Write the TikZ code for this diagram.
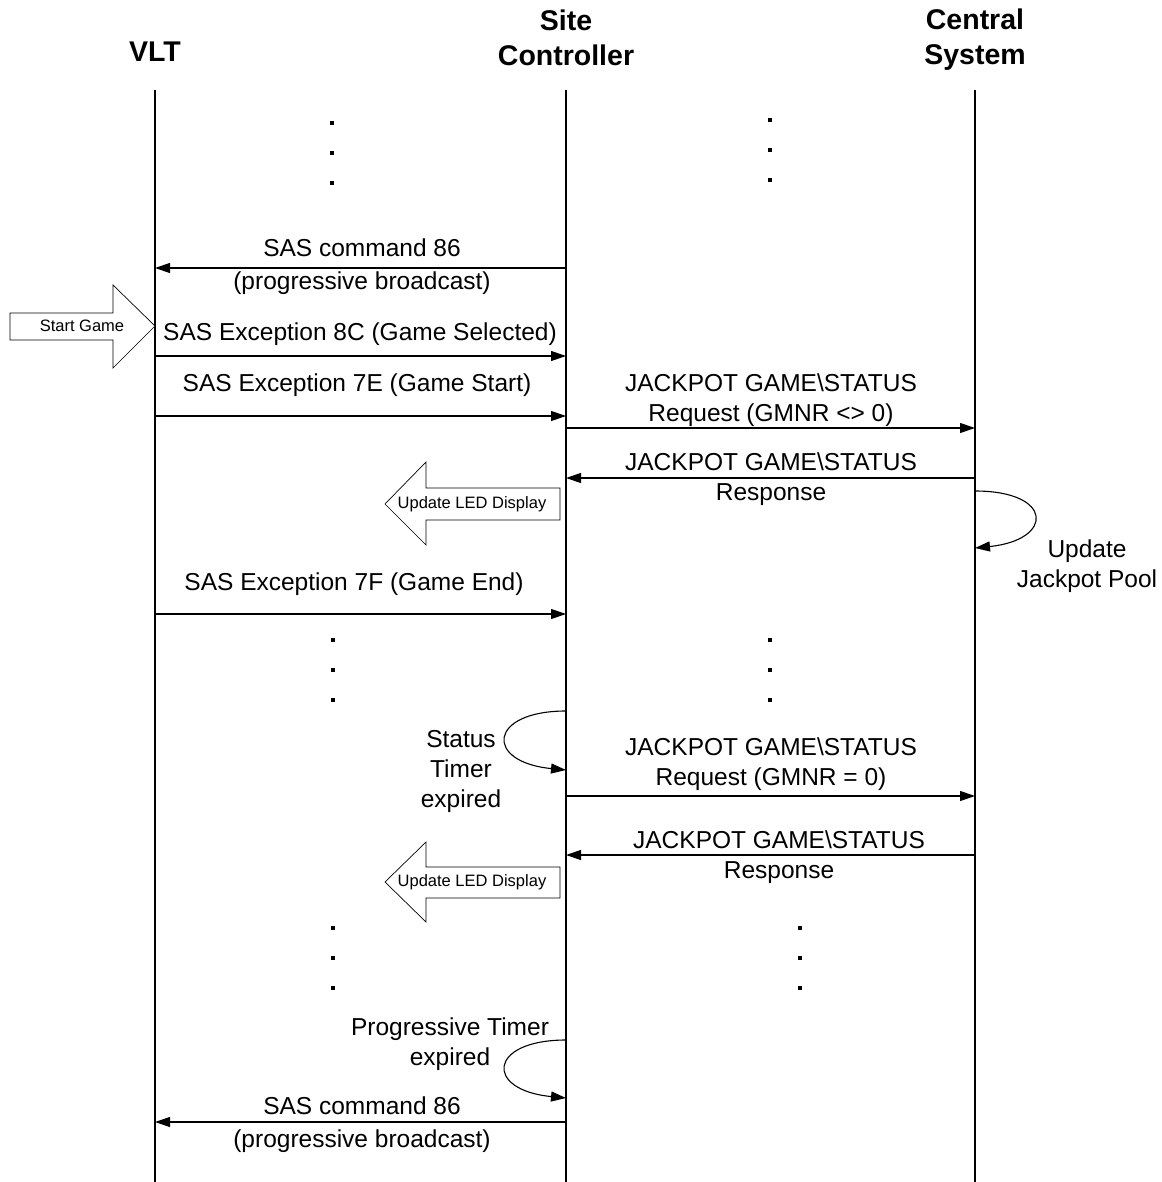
\documentclass[tikz,border=0pt]{standalone}
\usepackage{fontspec}
\setmainfont{Liberation Sans}
\usetikzlibrary{arrows.meta}
\begin{document}
\begin{tikzpicture}[x=1pt,y=-1pt,
  lifeline/.style={line width=1.2pt},
  msg/.style={line width=1.2pt,-{Triangle[length=15pt,width=10pt]}},
  loopmsg/.style={line width=1.1pt,-{Triangle[length=15pt,width=10pt]}},
  head/.style={font=\fontsize{28.5}{35}\selectfont\bfseries,align=center,inner sep=0pt},
  lbl/.style={font=\fontsize{24.5}{30}\selectfont,align=center,inner sep=0pt},
  small/.style={font=\fontsize{16.5}{19}\selectfont,inner sep=0pt},
  blockarrow/.style={draw,line width=0.7pt,fill=white},
  dot/.style={rectangle,fill,inner sep=0pt,minimum size=3.8pt}
]
\useasboundingbox (0,0) rectangle (1161,1182);

% participants
\node[head] (vlt) at (155,52) {VLT};
\node[head] (site) at (566,38) {Site\\Controller};
\node[head] (central) at (975,40) {Central\\System};

% lifelines
\coordinate (vtop) at (155,90);   \coordinate (vbot) at (155,1182);
\coordinate (stop) at (566,90);   \coordinate (sbot) at (566,1182);
\coordinate (ctop) at (975,90);   \coordinate (cbot) at (975,1182);
\draw[lifeline] (vtop) -- (vbot);
\draw[lifeline] (stop) -- (sbot);
\draw[lifeline] (ctop) -- (cbot);

% elision dots
\foreach \x/\y [count=\i] in {332/123,332/153,332/183,770/120,770/150,770/180,
  333/640,333/670,333/700,770/640,770/670,770/700,
  333/928,333/958,333/988,800/928,800/958,800/988}
  \node[dot] (d\i) at (\x,\y) {};

% progressive broadcast
\coordinate (s1) at (566,268); \coordinate (v1) at (155,268);
\draw[msg] (s1) -- (v1);
\node[lbl] (m1) at (362,267) {SAS command 86\\[3pt](progressive broadcast)};

% start game
\draw[blockarrow] (10,313) -- (113,313) -- (113,285) -- (155,326) -- (113,368) -- (113,340) -- (10,340) -- cycle;
\node[small] (startgame) at (82,326) {Start Game};

% game selected
\coordinate (v2) at (155,356); \coordinate (s2) at (566,356);
\draw[msg] (v2) -- (s2);
\node[lbl] (m2) at (360,334) {SAS Exception 8C (Game Selected)};

% game start
\coordinate (v3) at (155,416); \coordinate (s3) at (566,416);
\draw[msg] (v3) -- (s3);
\node[lbl] (m3) at (357,385) {SAS Exception 7E (Game Start)};

% status request
\coordinate (s4) at (566,428); \coordinate (c4) at (975,428);
\draw[msg] (s4) -- (c4);
\node[lbl] (m4) at (771,400) {JACKPOT GAME\textbackslash STATUS\\Request (GMNR <> 0)};

% status response
\coordinate (c5) at (975,478); \coordinate (s5) at (566,478);
\draw[msg] (c5) -- (s5);
\node[lbl] (m5) at (771,479) {JACKPOT GAME\textbackslash STATUS\\Response};

% LED update
\draw[blockarrow] (560,488) -- (426,488) -- (426,462) -- (385,504) -- (426,545) -- (426,520) -- (560,520) -- cycle;
\node[small] (led1) at (472,504) {Update LED Display};

% jackpot pool update
\coordinate (c6a) at (975,491); \coordinate (c6b) at (975,548);
\draw[loopmsg] (c6a) .. controls (1054,491) and (1054,540) .. (c6b);
\node[lbl] (m6) at (1087,566) {Update\\Jackpot Pool};

% game end
\coordinate (v7) at (155,614); \coordinate (s7) at (566,614);
\draw[msg] (v7) -- (s7);
\node[lbl] (m7) at (354,584) {SAS Exception 7F (Game End)};

% status timer
\coordinate (s8a) at (566,711); \coordinate (s8b) at (566,770);
\draw[loopmsg] (s8a) .. controls (488,711) and (484,762) .. (s8b);
\node[lbl] (m8) at (461,771) {Status\\Timer\\expired};

% status request, no game
\coordinate (s9) at (566,796); \coordinate (c9) at (975,796);
\draw[msg] (s9) -- (c9);
\node[lbl] (m9) at (771,764) {JACKPOT GAME\textbackslash STATUS\\Request (GMNR = 0)};

% status response
\coordinate (c10) at (975,855); \coordinate (s10) at (566,855);
\draw[msg] (c10) -- (s10);
\node[lbl] (m10) at (779,857) {JACKPOT GAME\textbackslash STATUS\\Response};

% LED update
\draw[blockarrow] (560,867) -- (426,867) -- (426,842) -- (385,882) -- (426,922) -- (426,898) -- (560,898) -- cycle;
\node[small] (led2) at (472,882) {Update LED Display};

% progressive timer
\coordinate (s11a) at (566,1040); \coordinate (s11b) at (566,1098);
\draw[loopmsg] (s11a) .. controls (488,1040) and (484,1090) .. (s11b);
\node[lbl] (m11) at (450,1044) {Progressive Timer\\expired};

% progressive broadcast
\coordinate (s12) at (566,1122); \coordinate (v12) at (155,1122);
\draw[msg] (s12) -- (v12);
\node[lbl] (m12) at (362,1125) {SAS command 86\\[3pt](progressive broadcast)};
\end{tikzpicture}
\end{document}
